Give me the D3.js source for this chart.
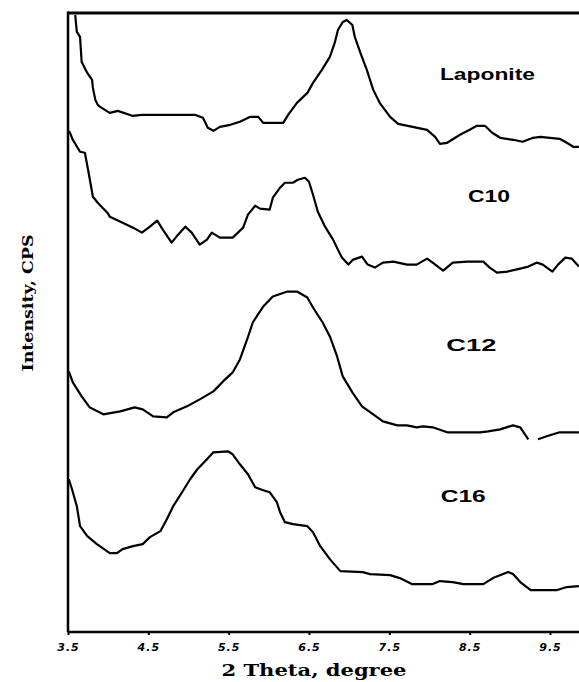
<!DOCTYPE html>
<html>
<head>
<meta charset="utf-8">
<script src="https://cdn.jsdelivr.net/npm/d3@7"></script>
<style>
  body { margin: 0; background: #fff; }
  svg { display: block; }
</style>
</head>
<body>
<div id="chart"></div>
<script>
// XRD patterns, 2 theta (degree) vs intensity (CPS, curves stacked)
var tickValues = [3.5, 4.5, 5.5, 6.5, 7.5, 8.5, 9.5];
var seriesNames = ["Laponite", "C10", "C12", "C16"];

var laponiteTheta = [3.59, 3.61, 3.65, 3.67, 3.74, 3.80, 3.81, 3.84, 3.87, 3.90, 4.02, 4.12, 4.30, 4.42, 4.65, 5.08, 5.18, 5.24, 5.31, 5.39, 5.52, 5.64, 5.77, 5.87, 5.93, 6.18, 6.24, 6.35, 6.48, 6.55, 6.66, 6.76, 6.82, 6.86, 6.92, 6.97, 7.04, 7.07, 7.14, 7.22, 7.30, 7.38, 7.51, 7.61, 7.79, 7.97, 8.07, 8.13, 8.22, 8.38, 8.50, 8.59, 8.69, 8.78, 8.88, 9.04, 9.16, 9.29, 9.38, 9.62, 9.71, 9.79, 9.86];
var laponiteCps = [618, 601, 596, 571, 560, 553, 545, 533, 528, 526, 520, 522, 517, 518, 518, 518, 515, 505, 502, 506, 508, 511, 516, 516, 510, 510, 518, 530, 540, 550, 563, 576, 590, 603, 611, 613, 608, 596, 580, 563, 543, 530, 516, 509, 506, 503, 496, 489, 490, 498, 503, 507, 507, 500, 495, 493, 491, 495, 496, 494, 490, 486, 486];

var c10Theta = [3.50, 3.52, 3.56, 3.65, 3.71, 3.75, 3.81, 3.87, 3.99, 4.02, 4.18, 4.31, 4.42, 4.52, 4.61, 4.68, 4.79, 4.87, 4.96, 5.04, 5.14, 5.23, 5.29, 5.39, 5.55, 5.68, 5.74, 5.83, 5.89, 6.01, 6.05, 6.14, 6.20, 6.30, 6.36, 6.45, 6.50, 6.55, 6.61, 6.70, 6.80, 6.86, 6.91, 6.99, 7.05, 7.16, 7.23, 7.32, 7.42, 7.55, 7.72, 7.84, 7.97, 8.04, 8.17, 8.29, 8.47, 8.67, 8.75, 8.84, 8.97, 9.13, 9.23, 9.34, 9.41, 9.53, 9.60, 9.69, 9.77, 9.86];
var c10Cps = [501, 501, 493, 481, 480, 463, 436, 430, 420, 416, 410, 405, 400, 406, 412, 403, 390, 398, 406, 400, 388, 393, 400, 395, 395, 405, 418, 427, 424, 423, 435, 445, 450, 450, 453, 455, 451, 438, 421, 406, 393, 383, 375, 368, 373, 376, 368, 365, 370, 371, 368, 368, 374, 370, 362, 370, 371, 371, 365, 360, 361, 364, 366, 370, 368, 361, 368, 375, 374, 366];

// null marks the break in the recorded C12 trace near 9.3 degree
var c12Theta = [3.51, 3.56, 3.67, 3.77, 3.94, 4.15, 4.33, 4.43, 4.56, 4.73, 4.81, 4.98, 5.14, 5.31, 5.43, 5.55, 5.64, 5.73, 5.80, 5.93, 6.05, 6.23, 6.35, 6.48, 6.55, 6.67, 6.76, 6.85, 6.92, 7.04, 7.16, 7.30, 7.42, 7.60, 7.72, 7.84, 7.92, 8.04, 8.22, 8.42, 8.63, 8.73, 8.88, 9.04, 9.13, 9.23, 9.29, 9.35, 9.46, 9.62, 9.86];
var c12Cps = [261, 250, 236, 225, 218, 221, 225, 223, 216, 215, 220, 226, 233, 241, 251, 260, 273, 293, 310, 326, 336, 341, 341, 335, 325, 310, 296, 276, 256, 240, 226, 218, 211, 207, 207, 205, 206, 205, 200, 200, 200, 201, 203, 207, 205, 193, null, 193, 196, 200, 200];

var c16Theta = [3.51, 3.55, 3.61, 3.65, 3.74, 3.86, 4.02, 4.11, 4.18, 4.31, 4.43, 4.52, 4.65, 4.73, 4.81, 4.92, 5.02, 5.11, 5.23, 5.31, 5.49, 5.55, 5.64, 5.74, 5.83, 5.93, 6.01, 6.10, 6.14, 6.20, 6.30, 6.48, 6.55, 6.64, 6.76, 6.89, 7.17, 7.26, 7.51, 7.63, 7.78, 8.04, 8.13, 8.29, 8.42, 8.67, 8.79, 8.98, 9.04, 9.13, 9.26, 9.59, 9.71, 9.86];
var c16Cps = [153, 143, 126, 106, 96, 88, 79, 79, 83, 86, 88, 95, 101, 113, 126, 140, 153, 163, 173, 180, 181, 178, 168, 158, 145, 142, 140, 130, 120, 110, 108, 106, 100, 86, 73, 61, 60, 58, 57, 54, 48, 48, 51, 50, 48, 48, 54, 60, 58, 50, 42, 42, 45, 46];

// label anchor: [2theta at left of label, cps at baseline, label width]
var labelTheta = [8.13, 8.48, 8.21, 8.14];
var labelCps = [553, 431, 281, 130];
var labelWidth = [95, 42, 50, 45];

var width = 579, height = 682;
var margin = { top: 13, left: 68, bottom: 50 };

var svg = d3.select("#chart").append("svg")
    .attr("width", width)
    .attr("height", height);

// scales
var x = d3.scaleLinear()
    .domain([3.5, 10])
    .range([margin.left, margin.left + 6.5 * 80.33]);

var y = d3.scaleLinear()
    .domain([0, 620])
    .range([height - margin.bottom, margin.top]);

var series = [
    { name: seriesNames[0], theta: laponiteTheta, cps: laponiteCps },
    { name: seriesNames[1], theta: c10Theta, cps: c10Cps },
    { name: seriesNames[2], theta: c12Theta, cps: c12Cps },
    { name: seriesNames[3], theta: c16Theta, cps: c16Cps }
];

var line = d3.line()
    .defined(function (d) { return d[1] != null; })
    .x(function (d) { return x(d[0]); })
    .y(function (d) { return y(d[1]); });

// curves
svg.append("g")
    .selectAll("path")
    .data(series)
    .enter()
    .append("path")
    .attr("fill", "none")
    .attr("stroke", "#000")
    .attr("stroke-width", 2.2)
    .attr("stroke-linejoin", "round")
    .attr("d", function (s) {
        return line(s.theta.map(function (t, i) { return [t, s.cps[i]]; }));
    });

// series labels
svg.append("g")
    .selectAll("text")
    .data(series)
    .enter()
    .append("text")
    .attr("x", function (d, i) { return x(labelTheta[i]); })
    .attr("y", function (d, i) { return y(labelCps[i]); })
    .attr("textLength", function (d, i) { return labelWidth[i]; })
    .attr("lengthAdjust", "spacingAndGlyphs")
    .style("font-family", "Liberation Sans, Arial, sans-serif")
    .style("font-weight", "bold")
    .style("font-size", "16px")
    .text(function (d) { return d.name; });

// frame: top border and left axis
svg.append("line")
    .attr("x1", x(3.5)).attr("x2", width)
    .attr("y1", y(620)).attr("y2", y(620))
    .attr("stroke", "#000").attr("stroke-width", 3);

svg.append("line")
    .attr("x1", x(3.5)).attr("x2", x(3.5))
    .attr("y1", y(620) - 1.5).attr("y2", y(0))
    .attr("stroke", "#000").attr("stroke-width", 2.5);

// bottom axis
var xAxis = d3.axisBottom(x)
    .tickValues(tickValues)
    .tickFormat(d3.format(".1f"))
    .tickSize(3)
    .tickSizeOuter(0)
    .tickPadding(8);

var gx = svg.append("g")
    .attr("transform", "translate(0," + y(0) + ")")
    .call(xAxis);

gx.select(".domain")
    .attr("stroke-width", 2.5)
    .attr("d", "M" + x(3.5) + ",0H" + width);
gx.selectAll(".tick line").attr("stroke-width", 2);
gx.selectAll(".tick text")
    .style("font-family", "DejaVu Sans, sans-serif")
    .style("font-weight", "bold")
    .style("font-style", "italic")
    .style("font-size", "11px")
    .style("letter-spacing", "1px")
    .attr("fill", "#000");

// axis titles
svg.append("text")
    .attr("x", 314)
    .attr("y", 676)
    .attr("text-anchor", "middle")
    .attr("textLength", 185)
    .attr("lengthAdjust", "spacingAndGlyphs")
    .style("font-family", "DejaVu Serif, serif")
    .style("font-weight", "bold")
    .style("font-size", "17px")
    .text("2 Theta, degree");

svg.append("text")
    .attr("transform", "translate(33,303) rotate(-90)")
    .attr("text-anchor", "middle")
    .attr("textLength", 137)
    .attr("lengthAdjust", "spacingAndGlyphs")
    .style("font-family", "DejaVu Serif, serif")
    .style("font-weight", "bold")
    .style("font-size", "15px")
    .text("Intensity, CPS");
</script>
</body>
</html>
